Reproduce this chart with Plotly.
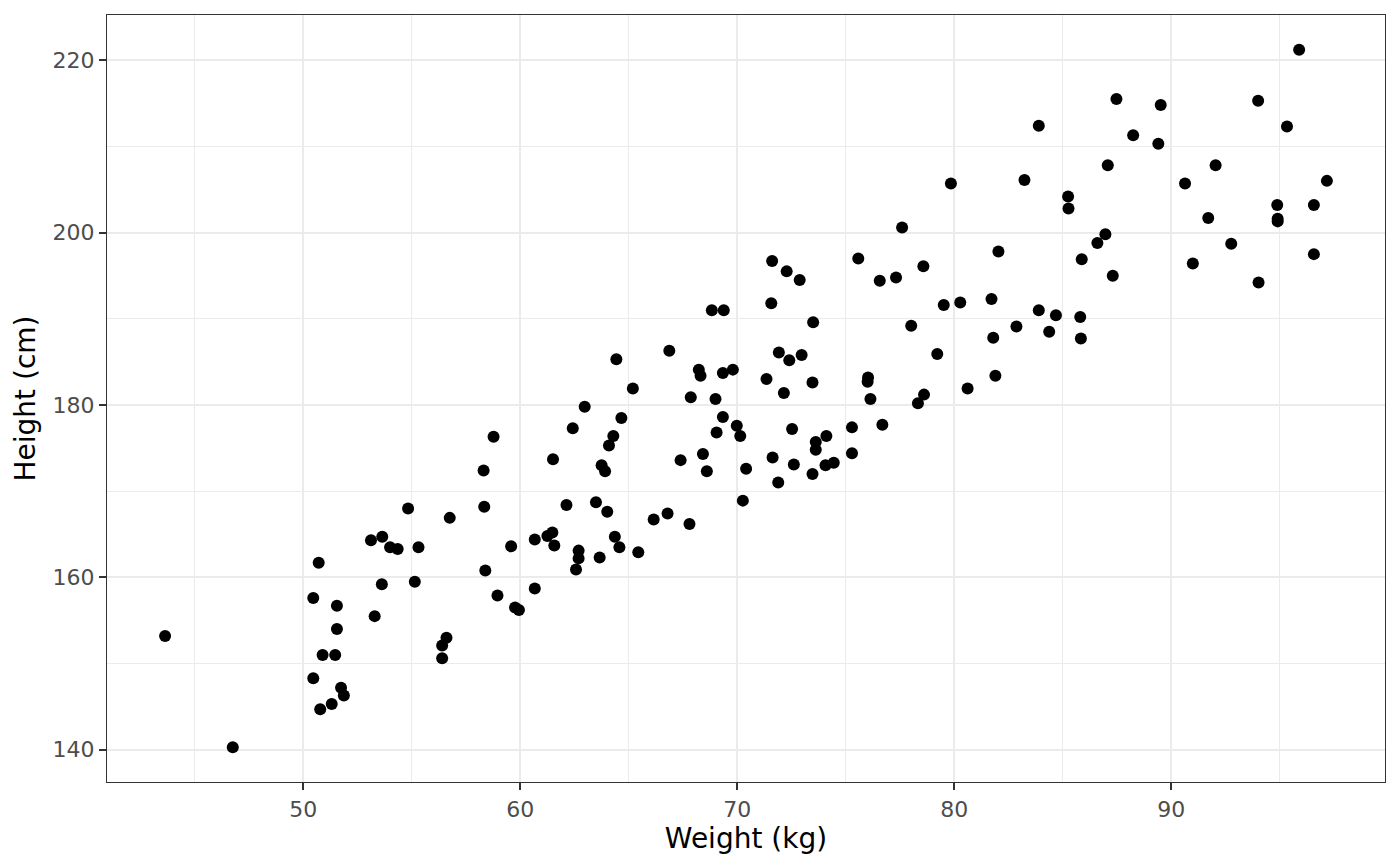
import plotly.graph_objects as go

## data
weight = [43.63, 46.75, 50.71, 53.12, 53.64, 54.0, 54.35, 54.83, 55.31, 50.46,
          51.55, 51.55, 53.62, 55.14, 53.29, 50.89, 51.47, 50.46, 51.74, 51.87,
          51.31, 50.78, 56.6, 56.4, 56.4, 56.75, 58.77, 58.31, 58.34, 59.58,
          58.39, 58.95, 59.76, 59.94, 60.67, 60.67, 61.25, 61.48, 61.57, 61.51,
          62.42, 62.97, 64.66, 64.29, 64.09, 63.75, 63.91, 67.39, 62.13, 63.49,
          64.01, 62.69, 62.69, 62.57, 63.66, 64.36, 64.57, 65.44, 66.15, 66.79,
          64.43, 66.87, 65.19, 68.83, 69.38, 71.57, 73.5, 68.23, 68.31, 69.34,
          69.8, 67.86, 69.0, 69.34, 69.98, 70.14, 69.05, 68.42, 68.6, 70.41,
          70.26, 71.92, 72.4, 72.97, 71.35, 72.15, 73.47, 72.53, 73.62, 73.62,
          74.11, 75.29, 75.29, 71.63, 72.61, 73.47, 74.07, 74.45, 71.89, 71.61,
          72.28, 72.88, 75.58, 76.57, 77.32, 78.58, 79.52, 80.28, 81.72, 82.04,
          78.02, 79.22, 81.8, 81.9, 80.62, 76.03, 76.01, 76.14, 78.61, 78.33,
          76.69, 83.9, 88.25, 89.41, 89.52, 87.08, 90.64, 79.85, 83.24, 85.25,
          85.27, 86.97, 86.6, 85.88, 87.31, 91.0, 83.9, 84.69, 85.81, 82.87,
          84.38, 85.84, 95.9, 94.01, 95.34, 92.05, 97.18, 94.89, 96.58, 94.91,
          94.91, 91.71, 92.77, 96.58, 94.03, 87.48, 67.8, 77.6]

height = [153.2, 140.3, 161.7, 164.3, 164.7, 163.5, 163.3, 168.0, 163.5, 157.6,
          156.7, 154.0, 159.2, 159.5, 155.5, 151.0, 151.0, 148.3, 147.2, 146.3,
          145.3, 144.7, 153.0, 152.1, 150.6, 166.9, 176.3, 172.4, 168.2, 163.6,
          160.8, 157.9, 156.5, 156.2, 158.7, 164.4, 164.8, 165.2, 163.7, 173.7,
          177.3, 179.8, 178.5, 176.4, 175.3, 173.0, 172.3, 173.6, 168.4, 168.7,
          167.6, 163.1, 162.2, 160.9, 162.3, 164.7, 163.5, 162.9, 166.7, 167.4,
          185.3, 186.3, 181.9, 191.0, 191.0, 191.8, 189.6, 184.1, 183.4, 183.7,
          184.1, 180.9, 180.7, 178.6, 177.6, 176.4, 176.8, 174.3, 172.3, 172.6,
          168.9, 186.1, 185.2, 185.8, 183.0, 181.4, 182.6, 177.2, 175.7, 174.8,
          176.4, 177.4, 174.4, 173.9, 173.1, 172.0, 173.0, 173.3, 171.0, 196.7,
          195.5, 194.5, 197.0, 194.4, 194.8, 196.1, 191.6, 191.9, 192.3, 197.8,
          189.2, 185.9, 187.8, 183.4, 181.9, 183.2, 182.7, 180.7, 181.2, 180.2,
          177.7, 212.4, 211.3, 210.3, 214.8, 207.8, 205.7, 205.7, 206.1, 204.2,
          202.8, 199.8, 198.8, 196.9, 195.0, 196.4, 191.0, 190.4, 190.2, 189.1,
          188.5, 187.7, 221.2, 215.3, 212.3, 207.8, 206.0, 203.2, 203.2, 201.6,
          201.3, 201.7, 198.7, 197.5, 194.2, 215.5, 166.2, 200.6]

x_ticks = [50, 60, 70, 80, 90]
y_ticks = [140, 160, 180, 200, 220]

# ggplot style 5% expansion
def expand(v, f=0.05):
    lo, hi = min(v), max(v)
    pad = (hi - lo) * f
    return [lo - pad, hi + pad]

fig = go.Figure()
fig.add_trace(go.Scatter(x=weight, y=height,
                         mode='markers',
                         marker=dict(color='black', size=12, line=dict(width=0)),
                         showlegend=False))

fig.update_layout(width=1400, height=866,
                  margin=dict(l=107, r=15, t=15, b=84),
                  plot_bgcolor='white', paper_bgcolor='white',
                  font=dict(family='DejaVu Sans', size=22, color='#4D4D4D'),
                  xaxis_title='Weight (kg)',
                  yaxis_title='Height (cm)',
                  xaxis_title_font=dict(size=28, color='black'),
                  yaxis_title_font=dict(size=28, color='black'))

fig.update_xaxes(range=expand(weight), tickvals=x_ticks,
                 showgrid=True, gridcolor='#EBEBEB', gridwidth=2,
                 minor=dict(dtick=5, tick0=0, showgrid=True, gridcolor='#EBEBEB', gridwidth=1),
                 zeroline=False,
                 showline=True, mirror=True, linecolor='#333333', linewidth=1.3,
                 ticks='outside', ticklen=7, tickwidth=2, tickcolor='#333333',
                 tickfont=dict(size=22, color='#4D4D4D'),
                 title_standoff=3)

fig.update_yaxes(range=expand(height), tickvals=y_ticks,
                 showgrid=True, gridcolor='#EBEBEB', gridwidth=2,
                 minor=dict(dtick=10, tick0=0, showgrid=True, gridcolor='#EBEBEB', gridwidth=1),
                 zeroline=False,
                 showline=True, mirror=True, linecolor='#333333', linewidth=1.3,
                 ticks='outside', ticklen=7, tickwidth=2, tickcolor='#333333',
                 tickfont=dict(size=22, color='#4D4D4D'),
                 title_standoff=8)

# drop the browser's default page margin so the figure sits at 0,0
fig.write_html("out.html", config={'displayModeBar': False},
               post_script="document.body.style.margin='0px';")
